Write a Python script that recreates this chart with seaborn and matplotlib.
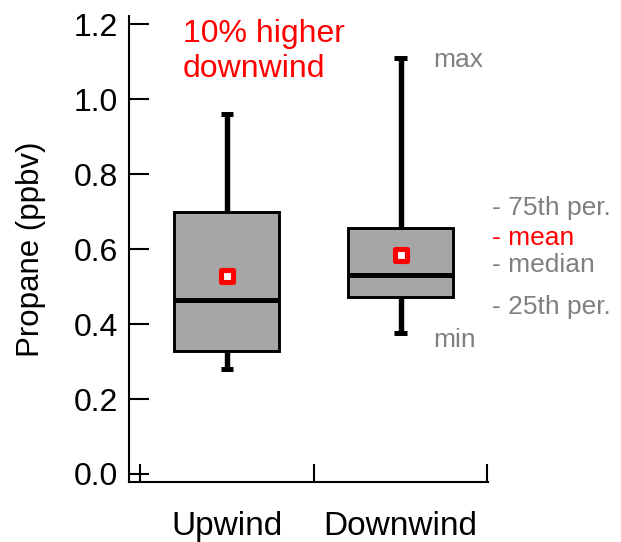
import numpy as np
import pandas as pd
import matplotlib
matplotlib.use("Agg")
import matplotlib.pyplot as plt
import seaborn as sns
from matplotlib.markers import MarkerStyle

# ---- data ----
sites = ["Upwind", "Downwind"]
mins = [0.280, 0.376]
q1s = [0.328, 0.472]
medians = [0.464, 0.531]
q3s = [0.700, 0.656]
maxs = [0.960, 1.111]
means = [0.529, 0.585]

yticks = [0.0, 0.2, 0.4, 0.6, 0.8, 1.0, 1.2]
annotation = "10% higher\ndownwind"
key_labels = ["- 75th per.", "- mean", "- median", "- 25th per."]
key_colors = ["#808080", "#ff0000", "#808080", "#808080"]

# five summary values per site -> percentiles 0/25/50/75/100 reproduce them exactly
rows = []
for s, a, b, c, d, e in zip(sites, mins, q1s, medians, q3s, maxs):
    for v in (a, b, c, d, e):
        rows.append({"site": s, "ppbv": v})
df = pd.DataFrame(rows)

sns.set_style("ticks")
plt.rcParams["font.family"] = ["Liberation Sans", "DejaVu Sans"]
plt.rcParams["text.color"] = "black"
plt.rcParams["axes.labelcolor"] = "black"
plt.rcParams["xtick.color"] = "black"
plt.rcParams["ytick.color"] = "black"

fig = plt.figure(figsize=(6.21, 5.42), dpi=100)
ax = fig.add_axes([129 / 621, 1 - 482 / 542, (488 - 129) / 621, (482 - 16) / 542])

sns.boxplot(data=df, x="site", y="ppbv", order=sites, whis=(0, 100), width=0.604,
            color="#a6a6a6", saturation=1, linecolor="black", linewidth=2.1,
            showfliers=False, capwidths=0.07,
            whiskerprops=dict(linewidth=3.9, solid_capstyle="butt"),
            capprops=dict(linewidth=3.6, solid_capstyle="butt"),
            medianprops=dict(linewidth=3.6, color="black"),
            ax=ax)

ax.plot(np.arange(len(sites)), means, linestyle="none",
        marker=MarkerStyle("s", joinstyle="round"), markersize=8.3,
        markerfacecolor="white", markeredgecolor="#ff0000", markeredgewidth=3.7,
        zorder=5)

ax.set_xlim(-0.562, 1.503)
ax.set_ylim(-0.0214, 1.2226)
ax.set_yticks(yticks)
ax.set_yticklabels([f"{t:.1f}" for t in yticks])
ax.set_xticks([-0.5, 0.5, 1.5])
ax.set_xticklabels(["", "", ""])
ax.set_xticks(range(len(sites)), minor=True)
ax.set_xticklabels(sites, minor=True)
ax.tick_params(axis="x", which="major", direction="in", length=13, width=1.5, color="black")
ax.tick_params(axis="x", which="minor", length=0, pad=21, labelsize=24, labelcolor="black")
ax.tick_params(axis="y", direction="in", length=14.4, width=1.5, pad=8, labelsize=23,
               color="black", labelcolor="black")
for side in ("top", "right"):
    ax.spines[side].set_visible(False)
for side in ("left", "bottom"):
    ax.spines[side].set_linewidth(1.5)
    ax.spines[side].set_color("black")

ax.set_xlabel("")
ax.set_ylabel("Propane (ppbv)", fontsize=22.5, labelpad=20, color="black")

ax.text(-0.251, 1.214, annotation, color="#ff0000", fontsize=23, va="top", ha="left")
ax.text(1.187, maxs[1] - 0.005, "max", color="#808080", fontsize=19, va="center", ha="left", clip_on=False)
ax.text(1.187, mins[1] - 0.017, "min", color="#808080", fontsize=19, va="center", ha="left", clip_on=False)
for lab, col, yy in zip(key_labels, key_colors, [0.711, 0.631, 0.558, 0.446]):
    ax.text(1.525, yy, lab, color=col, fontsize=19, va="center", ha="left", clip_on=False)

fig.savefig("out.png", dpi=100)
